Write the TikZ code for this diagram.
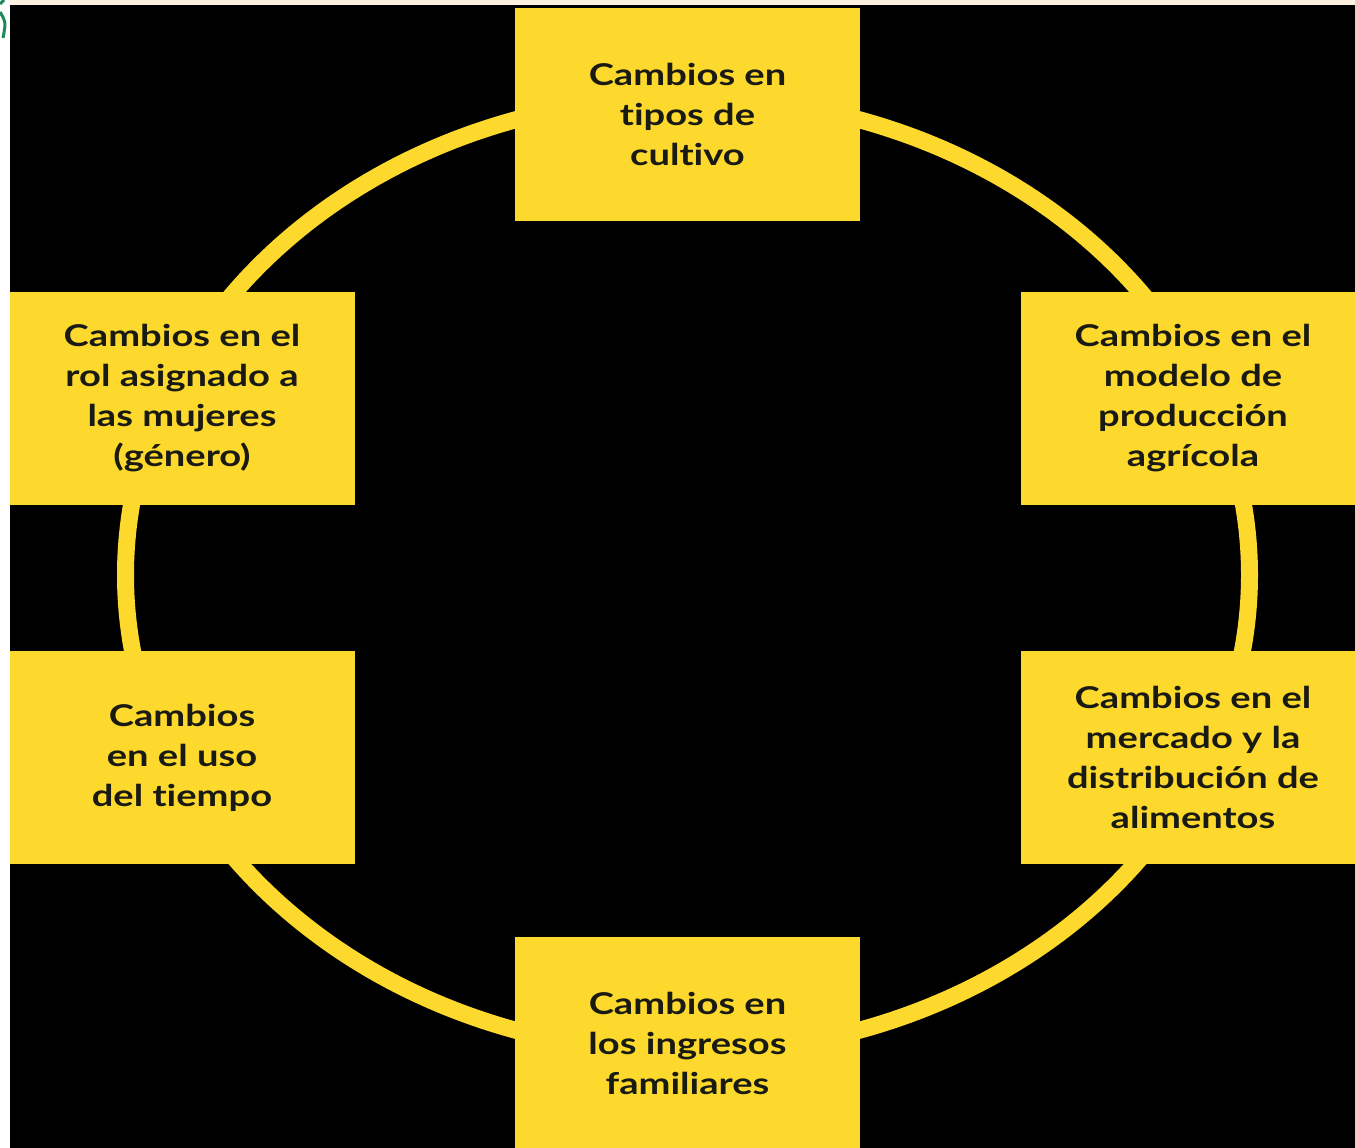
\documentclass[tikz,border=0pt]{standalone}
\usepackage{fontspec}
\setmainfont{Lato}[UprightFont=* Bold, FakeStretch=1.27, Ligatures=NoCommon]
\definecolor{boxyellow}{HTML}{FCD92C}
\definecolor{creamtop}{HTML}{FCF1E0}
\definecolor{txtdark}{HTML}{1A1A14}
\definecolor{leafgreen}{HTML}{1E8A5A}
\begin{document}
\begin{tikzpicture}[x=1pt,y=-1pt,
  stagebox/.style={fill=boxyellow, draw=none, minimum width=345pt, minimum height=213pt,
    align=center, text=txtdark, font=\fontsize{30}{40}\selectfont, inner sep=0pt},
  ring/.style={draw=boxyellow, line width=17pt}]
\useasboundingbox (0,0) rectangle (1355,1148);
\clip (0,0) rectangle (1355,1148);
\fill[white] (0,0) rectangle (1355,1148);
\fill[creamtop] (10,0) rectangle (1355,5);
\fill[black] (10,5) rectangle (1355,1148);
\draw[leafgreen, line width=3pt] (4,0) -- (0,4);
\draw[leafgreen, line width=3pt] (0,12) .. controls (6,22) .. (3,38);
% ring
\draw[ring] (687.5,575) ellipse [x radius=562, y radius=478];
% boxes
\node[stagebox] (cultivo) at (687.5,114.5) {Cambios en\\tipos de\\cultivo};
\node[stagebox] (modelo) at (1193,398.5) {Cambios en el\\modelo de\\producción\\agrícola};
\node[stagebox] (mercado) at (1193,757.5) {Cambios en el\\mercado y la\\distribución de\\alimentos};
\node[stagebox] (ingresos) at (687.5,1043) {Cambios en\\los ingresos\\familiares};
\node[stagebox] (tiempo) at (182,757.5) {Cambios\\en el uso\\del tiempo};
\node[stagebox] (genero) at (182,398.5) {Cambios en el\\rol asignado a\\las mujeres\\(género)};
\end{tikzpicture}
\end{document}
